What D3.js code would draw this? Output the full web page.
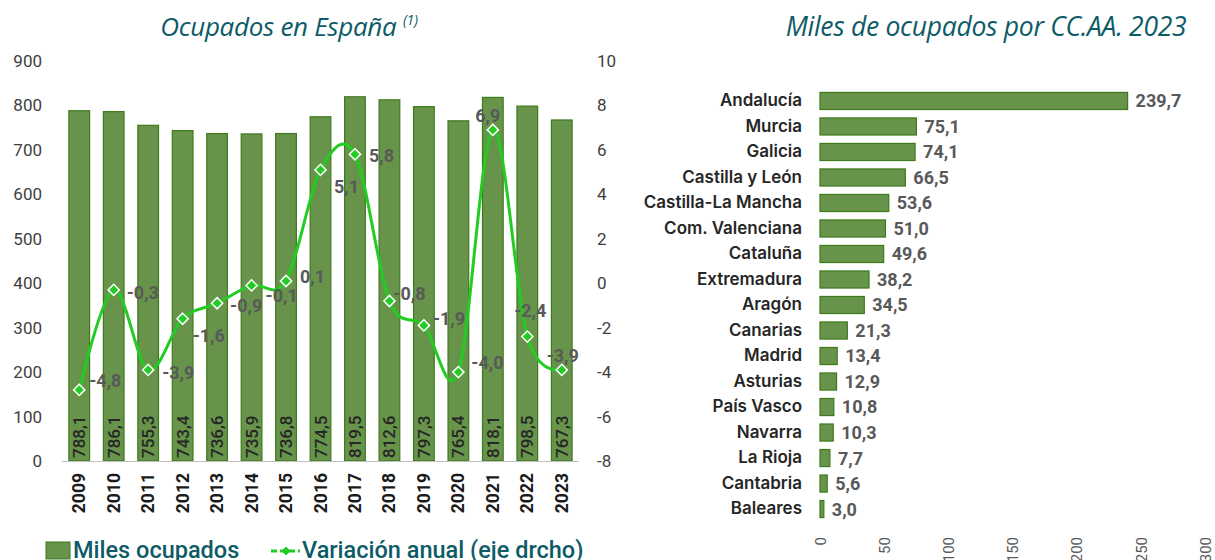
<!DOCTYPE html>
<html>
<head>
<meta charset="utf-8">
<script src="https://cdn.jsdelivr.net/npm/d3@7"></script>
<style>
  body { margin: 0; background: #fff; }
  svg { display: block; font-family: Roboto, "Noto Sans", sans-serif; }
</style>
</head>
<body>
<div id="chart"></div>
<script>
var width = 1215
var height = 560

// datos: ocupados en España
var years = ['2009', '2010', '2011', '2012', '2013', '2014', '2015', '2016', '2017', '2018', '2019', '2020', '2021', '2022', '2023']
var ocupados = [788.1, 786.1, 755.3, 743.4, 736.6, 735.9, 736.8, 774.5, 819.5, 812.6, 797.3, 765.4, 818.1, 798.5, 767.3]
var variacion = [-4.8, -0.3, -3.9, -1.6, -0.9, -0.1, 0.1, 5.1, 5.8, -0.8, -1.9, -4.0, 6.9, -2.4, -3.9]
var leftTicks = [0, 100, 200, 300, 400, 500, 600, 700, 800, 900]
var rightTicks = [-8, -6, -4, -2, 0, 2, 4, 6, 8, 10]

// datos: CC.AA. 2023
var regiones = ['Andalucía', 'Murcia', 'Galicia', 'Castilla y León', 'Castilla-La Mancha', 'Com. Valenciana', 'Cataluña', 'Extremadura', 'Aragón', 'Canarias', 'Madrid', 'Asturias', 'País Vasco', 'Navarra', 'La Rioja', 'Cantabria', 'Baleares']
var ocupadosCCAA = [239.7, 75.1, 74.1, 66.5, 53.6, 51.0, 49.6, 38.2, 34.5, 21.3, 13.4, 12.9, 10.8, 10.3, 7.7, 5.6, 3.0]
var ccaaTicks = [0, 50, 100, 150, 200, 250, 300]

// coma decimal y guion normal
var fmt = function(v) { return d3.format('.1f')(v).replace('.', ',').replace('\u2212', '-') }

var barFill = '#67944a'
var barStroke = '#3d7a1c'
var lineGreen = '#22cc22'
var teal = '#0c5b66'
var grey = '#595959'

var svg = d3.select('#chart')
  .append('svg')
  .attr('width', width)
  .attr('height', height)

// ---------- left chart ----------
var x = d3.scaleBand()
  .domain(years)
  .range([62, 579])
  .paddingInner(0.4)
  .paddingOuter(0.2)

var y = d3.scaleLinear()
  .domain([0, 900])
  .range([461, 61])

var y2 = d3.scaleLinear()
  .domain([-8, 10])
  .range([461, 61])

svg.append('text')
  .attr('x', 289)
  .attr('y', 36)
  .attr('text-anchor', 'middle')
  .attr('font-size', 26)
  .attr('font-style', 'italic')
  .attr('font-family', '"Open Sans", sans-serif')
  .attr('letter-spacing', -0.3)
  .attr('fill', teal)
  .text('Ocupados en España ')
  .append('tspan')
  .attr('font-size', 14)
  .attr('dy', -11)
  .text('(1)')

var leftAxis = svg.append('g')
  .attr('transform', 'translate(62,0)')
  .call(d3.axisLeft(y).tickValues(leftTicks).tickSize(0).tickPadding(20))
leftAxis.select('.domain').remove()
leftAxis.selectAll('text')
  .attr('font-size', 17)
  .attr('fill', '#404040')
  .attr('font-family', 'Roboto, sans-serif')

var rightAxis = svg.append('g')
  .attr('transform', 'translate(579,0)')
  .call(d3.axisRight(y2).tickValues(rightTicks).tickSize(0).tickPadding(18))
rightAxis.select('.domain').remove()
rightAxis.selectAll('text')
  .attr('font-size', 17)
  .attr('fill', '#404040')
  .attr('font-family', 'Roboto, sans-serif')
  .text(d => String(d).replace('\u2212', '-'))

svg.append('g').selectAll('rect')
  .data(ocupados)
  .join('rect')
  .attr('x', (d, i) => x(years[i]))
  .attr('y', d => y(d))
  .attr('width', x.bandwidth())
  .attr('height', d => y(0) - y(d))
  .attr('fill', barFill)
  .attr('stroke', barStroke)
  .attr('stroke-width', 1.2)

svg.append('line')
  .attr('x1', 62)
  .attr('x2', 579)
  .attr('y1', y(0) + 0.5)
  .attr('y2', y(0) + 0.5)
  .attr('stroke', '#bfbfbf')
  .attr('stroke-width', 1)

// values inside bars
svg.append('g').selectAll('text')
  .data(ocupados)
  .join('text')
  .attr('transform', (d, i) => 'translate(' + (x(years[i]) + x.bandwidth() / 2 + 6) + ',' + (y(0) - 3) + ') rotate(-90)')
  .attr('font-size', 17)
  .attr('font-weight', 500)
  .attr('fill', '#262626')
  .text(d => fmt(d))

// year labels
svg.append('g').selectAll('text')
  .data(years)
  .join('text')
  .attr('transform', d => 'translate(' + (x(d) + x.bandwidth() / 2 + 6) + ',' + 473 + ') rotate(-90)')
  .attr('text-anchor', 'end')
  .attr('font-size', 17.5)
  .attr('font-weight', 700)
  .attr('fill', '#1a1a1a')
  .text(d => d)

// variation line
var line = d3.line()
  .x((d, i) => x(years[i]) + x.bandwidth() / 2)
  .y(d => y2(d))
  .curve(d3.curveCardinal.tension(0))

svg.append('path')
  .datum(variacion)
  .attr('fill', 'none')
  .attr('stroke', lineGreen)
  .attr('stroke-width', 3)
  .attr('stroke-linejoin', 'round')
  .attr('d', line)

var diamond = d3.symbol().type(d3.symbolDiamond2).size(80)

svg.append('g').selectAll('path')
  .data(variacion)
  .join('path')
  .attr('transform', (d, i) => 'translate(' + (x(years[i]) + x.bandwidth() / 2) + ',' + y2(d) + ')')
  .attr('d', diamond)
  .attr('fill', lineGreen)
  .attr('stroke', '#fff')
  .attr('stroke-width', 1.5)

// label placement (dx from marker, dy to baseline, anchor)
var lineLabelPos = [
  [10, -3, 'start'], [13, 9, 'start'], [14, 9, 'start'], [10, 23, 'start'], [13, 9, 'start'],
  [14, 17, 'start'], [14, 2, 'start'], [26, 23, 'middle'], [14, 8, 'start'], [4, -1, 'start'],
  [9, 0, 'start'], [13, -3, 'start'], [-5, -8, 'middle'], [3, -20, 'middle'], [1, -8, 'middle']
]

svg.append('g').selectAll('text')
  .data(variacion)
  .join('text')
  .attr('x', (d, i) => x(years[i]) + x.bandwidth() / 2 + lineLabelPos[i][0])
  .attr('y', (d, i) => y2(d) + lineLabelPos[i][1])
  .attr('text-anchor', (d, i) => lineLabelPos[i][2])
  .attr('font-size', 18)
  .attr('font-weight', 700)
  .attr('fill', grey)
  .text(d => fmt(d))

// legend
var legend = svg.append('g')
legend.append('rect')
  .attr('x', 46).attr('y', 542)
  .attr('width', 24).attr('height', 17)
  .attr('fill', barFill)
  .attr('stroke', barStroke)
legend.append('text')
  .attr('x', 73).attr('y', 558)
  .attr('font-size', 23.5)
  .attr('font-weight', 500)
  .attr('fill', teal)
  .text('Miles ocupados')
legend.append('line')
  .attr('x1', 271).attr('x2', 300)
  .attr('y1', 551).attr('y2', 551)
  .attr('stroke', lineGreen)
  .attr('stroke-width', 3)
  .attr('stroke-dasharray', '6,3')
legend.append('path')
  .attr('transform', 'translate(286,551)')
  .attr('d', d3.symbol().type(d3.symbolDiamond2).size(40))
  .attr('fill', lineGreen)
  .attr('stroke', lineGreen)
legend.append('text')
  .attr('x', 302).attr('y', 558)
  .attr('font-size', 23.5)
  .attr('font-weight', 500)
  .attr('fill', teal)
  .text('Variación anual (eje drcho)')

// ---------- right chart ----------
svg.append('text')
  .attr('x', 986)
  .attr('y', 36)
  .attr('text-anchor', 'middle')
  .attr('font-size', 26.5)
  .attr('font-style', 'italic')
  .attr('font-family', '"Open Sans", sans-serif')
  .attr('letter-spacing', -0.3)
  .attr('fill', teal)
  .text('Miles de ocupados por CC.AA. 2023')

var xr = d3.scaleLinear()
  .domain([0, 300])
  .range([820, 1205])

var yr = d3.scaleBand()
  .domain(regiones)
  .range([84, 526])
  .padding(0.33)

svg.append('g').selectAll('rect')
  .data(ocupadosCCAA)
  .join('rect')
  .attr('x', xr(0))
  .attr('y', (d, i) => yr(regiones[i]))
  .attr('width', d => xr(d) - xr(0))
  .attr('height', yr.bandwidth())
  .attr('fill', barFill)
  .attr('stroke', barStroke)
  .attr('stroke-width', 1.2)

var catAxis = svg.append('g')
  .attr('transform', 'translate(820,0)')
  .call(d3.axisLeft(yr).tickSize(0).tickPadding(18))
catAxis.select('.domain').remove()
catAxis.selectAll('text')
  .attr('font-size', 17)
  .attr('font-weight', 600)
  .attr('fill', '#262626')
  .attr('font-family', 'Inter, Roboto, sans-serif')

svg.append('g').selectAll('text')
  .data(ocupadosCCAA)
  .join('text')
  .attr('x', d => xr(d) + 8)
  .attr('y', (d, i) => yr(regiones[i]) + yr.bandwidth() / 2)
  .attr('dy', '0.36em')
  .attr('font-size', 18)
  .attr('font-weight', 700)
  .attr('fill', grey)
  .text(d => fmt(d))

var valAxis = svg.append('g')
  .attr('transform', 'translate(0,537)')
  .call(d3.axisBottom(xr).tickValues(ccaaTicks).tickSize(0).tickPadding(0))
valAxis.select('.domain').remove()
valAxis.selectAll('text')
  .attr('transform', 'rotate(-90)')
  .attr('text-anchor', 'end')
  .attr('x', 0)
  .attr('y', 0)
  .attr('dy', '0.35em')
  .attr('font-size', 15)
  .attr('fill', grey)
  .attr('font-family', 'Roboto, sans-serif')
</script>
</body>
</html>
